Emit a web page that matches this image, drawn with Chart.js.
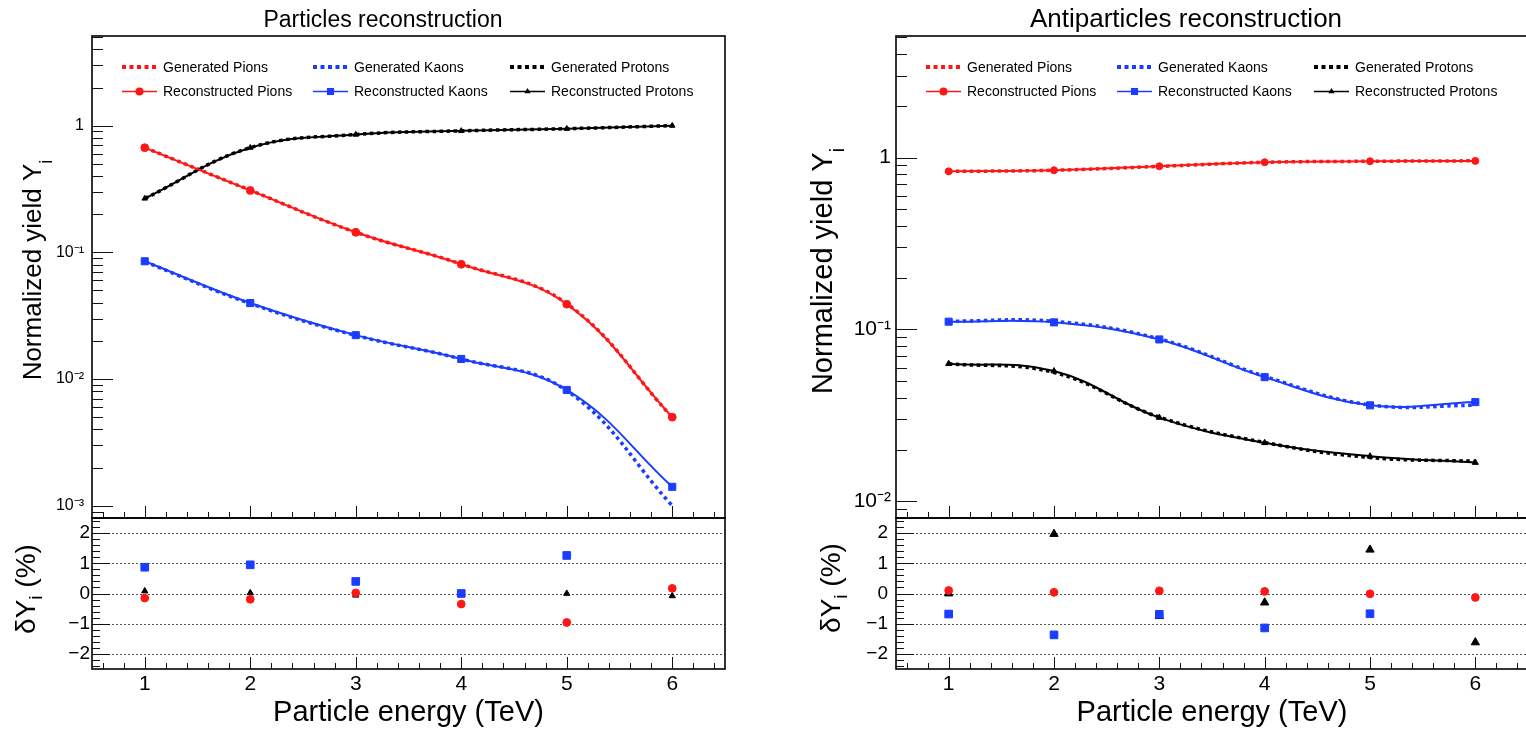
<!DOCTYPE html>
<html>
<head>
<meta charset="utf-8">
<script src="https://cdn.jsdelivr.net/npm/chart.js@4.4.1/dist/chart.umd.min.js"></script>
<style>
  html, body { margin: 0; padding: 0; background: #fff; overflow: hidden; }
  #wrap { position: relative; width: 1526px; height: 730px; overflow: hidden; background: #fff; }
  canvas { position: absolute; }
</style>
</head>
<body>
<div id="wrap">
  <canvas id="partTop" width="766" height="522" style="left:0px;top:0px"></canvas>
  <canvas id="partRes" width="766" height="230" style="left:0px;top:500px"></canvas>
  <canvas id="antiTop" width="724" height="522" style="left:806px;top:0px"></canvas>
  <canvas id="antiRes" width="724" height="230" style="left:806px;top:500px"></canvas>
</div>
<script>
// ---- data ----
const energies = [1, 2, 3, 4, 5, 6];
const speciesNames = ['Pions', 'Kaons', 'Protons'];
const xTickValues = [1, 2, 3, 4, 5, 6];
const logTickValues = [0.001, 0.01, 0.1, 1];
const resTickValues = [-2, -1, 0, 1, 2];

// particles
const partRecPions   = [0.670, 0.308, 0.144, 0.0805, 0.0390, 0.00500];
const partGenPions   = [0.671, 0.309, 0.144, 0.0808, 0.0394, 0.00499];
const partRecKaons   = [0.0850, 0.0398, 0.0222, 0.0144, 0.00820, 0.00141];
const partGenKaons   = [0.0843, 0.0394, 0.0221, 0.0144, 0.00810, 0.00100];
const partRecProtons = [0.266, 0.670, 0.850, 0.910, 0.946, 1.00];
const partGenProtons = [0.266, 0.670, 0.850, 0.910, 0.946, 1.00];
const partResPions   = [-0.15, -0.19, 0.02, -0.35, -0.96, 0.17];
const partResKaons   = [0.87, 0.95, 0.40, 0.00, 1.26, null];
const partResProtons = [0.08, 0.02, -0.06, -0.03, 0.00, -0.08];

// antiparticles
const antiRecPions   = [0.832, 0.844, 0.890, 0.940, 0.952, 0.957];
const antiGenPions   = [0.831, 0.844, 0.889, 0.939, 0.952, 0.958];
const antiRecKaons   = [0.111, 0.110, 0.0875, 0.0528, 0.0362, 0.0378];
const antiGenKaons   = [0.1117, 0.1115, 0.0881, 0.0534, 0.0364, 0.0362];
const antiRecProtons = [0.0632, 0.0573, 0.0307, 0.0219, 0.0183, 0.0168];
const antiGenProtons = [0.0632, 0.0562, 0.0309, 0.0220, 0.0180, 0.0171];
const antiResPions   = [0.10, 0.04, 0.09, 0.07, -0.01, -0.13];
const antiResKaons   = [-0.68, -1.37, -0.69, -1.14, -0.67, null];
const antiResProtons = [0.00, 1.97, -0.75, -0.30, 1.45, -1.62];

// ---- styles ----
const FONT = '"Liberation Sans", Arial, Helvetica, sans-serif';
const speciesColors = ['#ff1616', '#1b3dff', '#000000'];
const speciesMarkers = ['circle', 'rect', 'triangle'];

Chart.defaults.font.family = FONT;
Chart.defaults.color = '#000';

function pts(arr) {
  return energies.map((e, i) => ({ x: e, y: arr[i] }));
}

function supNum(n) {
  const map = { '-': '\u207B', '0': '\u2070', '1': '\u00B9', '2': '\u00B2', '3': '\u00B3',
    '4': '\u2074', '5': '\u2075', '6': '\u2076', '7': '\u2077', '8': '\u2078', '9': '\u2079' };
  return String(n).split('').map(c => map[c]).join('');
}

function fmtLog(v) {
  const e = Math.round(Math.log10(v));
  return e === 0 ? '1' : '10' + supNum(e);
}

function fmtRes(v) {
  return v < 0 ? '\u2212' + Math.abs(v) : String(v);
}

// fixed axis box, no extra padding for edge labels
function fixWidth(w) {
  return sc => { sc.width = w; sc.paddingTop = 0; sc.paddingBottom = 0; };
}

// tick marks drawn inside the frame, ROOT style
function logTickMarks(min, max) {
  const out = [];
  for (let d = Math.floor(Math.log10(min)); d <= Math.ceil(Math.log10(max)); d++) {
    for (let k = 1; k <= 9; k++) {
      const v = k * Math.pow(10, d);
      if (v >= min && v <= max) out.push({ v: v, len: k === 1 ? 21 : 11 });
    }
  }
  return out;
}

function linTickMarks(min, max, step, majLen, minLen) {
  const out = [];
  for (let i = Math.ceil(min / step - 1e-9); i * step <= max + 1e-9; i++) {
    const v = i * step;
    out.push({ v: v, len: Math.abs(v - Math.round(v)) < 1e-9 ? majLen : minLen });
  }
  return out;
}

function drawMarker(ctx, style, x, y, r, color) {
  ctx.fillStyle = color;
  ctx.beginPath();
  if (style === 'circle') {
    ctx.arc(x, y, r, 0, Math.PI * 2);
  } else if (style === 'rect') {
    const s = r * Math.SQRT1_2;
    ctx.rect(x - s, y - s, 2 * s, 2 * s);
  } else {
    ctx.moveTo(x, y - r);
    ctx.lineTo(x + r * 0.866, y + r / 2);
    ctx.lineTo(x - r * 0.866, y + r / 2);
    ctx.closePath();
  }
  ctx.fill();
}

// rotated axis title with a subscript
function drawVTitle(ctx, t) {
  ctx.save();
  ctx.translate(t.x, t.y);
  ctx.rotate(-Math.PI / 2);
  ctx.fillStyle = '#000';
  ctx.textBaseline = 'alphabetic';
  ctx.textAlign = 'left';
  ctx.font = t.size + 'px ' + FONT;
  const w1 = ctx.measureText(t.main).width;
  const w3 = ctx.measureText(t.tail).width;
  ctx.font = t.subSize + 'px ' + FONT;
  const w2 = ctx.measureText(t.sub).width;
  let x = -(w1 + w2 + w3) / 2;
  ctx.font = t.size + 'px ' + FONT;
  ctx.fillText(t.main, x, 0);
  x += w1;
  ctx.font = t.subSize + 'px ' + FONT;
  ctx.fillText(t.sub, x, t.drop);
  x += w2;
  ctx.font = t.size + 'px ' + FONT;
  ctx.fillText(t.tail, x, 0);
  ctx.restore();
}

function drawLegend(chart, o) {
  const ctx = chart.ctx, a = chart.chartArea;
  const cols = [30, 221, 418];
  const rows = [31, 55.5];
  const legendR = [4, 5, 3.6];
  ctx.save();
  ctx.font = '14px ' + FONT;
  ctx.textBaseline = 'middle';
  ctx.textAlign = 'left';
  speciesNames.forEach((name, k) => {
    ['Generated ', 'Reconstructed '].forEach((kind, r) => {
      const ds = chart.data.datasets.find(d => d.label === kind + name);
      const x0 = a.left + cols[k], y = a.top + rows[r];
      ctx.strokeStyle = ds.borderColor;
      if (ds.borderDash) {
        ctx.lineWidth = 4;
        ctx.setLineDash([4, 3.5]);
      } else {
        ctx.lineWidth = 1.5;
        ctx.setLineDash([]);
      }
      ctx.beginPath();
      ctx.moveTo(x0, y);
      ctx.lineTo(x0 + 35, y);
      ctx.stroke();
      ctx.setLineDash([]);
      if (!ds.borderDash) drawMarker(ctx, ds.pointStyle, x0 + 17.5, y, legendR[k], ds.borderColor);
      ctx.fillStyle = '#000';
      ctx.fillText(ds.label, x0 + 41, y + 1);
    });
  });
  ctx.restore();
}

const rootFrame = {
  id: 'rootFrame',
  beforeDatasetsDraw(chart, args, o) {
    if (!o.gridValues) return;
    const ctx = chart.ctx, a = chart.chartArea, ys = chart.scales.y;
    ctx.save();
    ctx.strokeStyle = '#555';
    ctx.lineWidth = 1;
    ctx.setLineDash([2, 2]);
    o.gridValues.forEach(v => {
      const py = Math.round(ys.getPixelForValue(v)) + 0.5;
      ctx.beginPath();
      ctx.moveTo(a.left, py);
      ctx.lineTo(a.right, py);
      ctx.stroke();
    });
    ctx.restore();
  },
  afterDraw(chart, args, o) {
    const ctx = chart.ctx, a = chart.chartArea, s = chart.scales;
    ctx.save();
    ctx.strokeStyle = '#111';
    ctx.lineWidth = 1;
    o.yTicks.forEach(t => {
      const py = Math.round(s.y.getPixelForValue(t.v)) + 0.5;
      ctx.beginPath();
      ctx.moveTo(a.left, py);
      ctx.lineTo(a.left + t.len, py);
      ctx.stroke();
    });
    o.xTicks.forEach(t => {
      const px = Math.round(s.x.getPixelForValue(t.v)) + 0.5;
      ctx.beginPath();
      ctx.moveTo(px, a.bottom);
      ctx.lineTo(px, a.bottom - t.len);
      ctx.stroke();
    });
    ctx.lineWidth = 1.6;
    ctx.strokeStyle = '#000';
    ctx.strokeRect(a.left, a.top, a.right - a.left, a.bottom - a.top);
    if (o.title) {
      ctx.fillStyle = '#000';
      ctx.font = o.titleSize + 'px ' + FONT;
      ctx.textAlign = 'center';
      ctx.textBaseline = 'alphabetic';
      ctx.fillText(o.title, o.titleX, o.titleY);
    }
    ctx.restore();
    if (o.yTitle) drawVTitle(ctx, o.yTitle);
    if (o.legend) drawLegend(chart, o);
  }
};

function buildPanel(p) {
  const topSets = [];
  speciesNames.forEach((name, k) => {
    topSets.push({
      label: 'Reconstructed ' + name,
      data: pts(p.rec[k]),
      borderColor: speciesColors[k],
      backgroundColor: speciesColors[k],
      borderWidth: 2,
      tension: 0.4,
      pointStyle: speciesMarkers[k],
      pointRadius: p.topRadius[k],
      pointBackgroundColor: speciesColors[k],
      pointBorderColor: speciesColors[k],
      pointBorderWidth: 1
    });
  });
  speciesNames.forEach((name, k) => {
    topSets.push({
      label: 'Generated ' + name,
      data: pts(p.gen[k]),
      borderColor: speciesColors[k],
      borderWidth: 3.5,
      borderDash: [3.5, 3.5],
      tension: 0.4,
      pointRadius: 0
    });
  });

  new Chart(document.getElementById(p.topId), {
    type: 'line',
    data: { datasets: topSets },
    options: {
      responsive: false,
      animation: false,
      events: [],
      layout: { autoPadding: false, padding: { top: 36, right: p.padRight, bottom: 4, left: 0 } },
      plugins: {
        legend: { display: false },
        tooltip: { enabled: false },
        rootFrame: {
          title: p.title, titleX: p.titleX, titleY: 27, titleSize: p.titleSize,
          yTitle: p.yTitle,
          legend: true,
          yTicks: logTickMarks(p.yMin, p.yMax),
          xTicks: linTickMarks(0.5, 6.5, 0.2, 12, 6)
        }
      },
      scales: {
        x: { type: 'linear', min: 0.5, max: 6.5, display: false },
        y: {
          type: 'logarithmic', min: p.yMin, max: p.yMax,
          afterFit: fixWidth(p.axisW),
          afterBuildTicks: sc => { sc.ticks = logTickValues.filter(v => v >= p.yMin).map(v => ({ value: v })); },
          ticks: { callback: fmtLog, font: { size: p.logFont }, padding: p.logPad, autoSkip: false, color: '#000' },
          grid: { display: false, drawTicks: false },
          border: { display: false }
        }
      }
    },
    plugins: [rootFrame]
  });

  const resSets = speciesNames.map((name, k) => ({
    label: 'Residual ' + name,
    data: pts(p.res[k]),
    showLine: false,
    pointStyle: speciesMarkers[k],
    pointRadius: p.resRadius[k],
    pointBackgroundColor: speciesColors[k],
    pointBorderColor: speciesColors[k],
    pointBorderWidth: 1
  }));

  new Chart(document.getElementById(p.resId), {
    type: 'line',
    data: { datasets: resSets },
    options: {
      responsive: false,
      animation: false,
      events: [],
      layout: { autoPadding: false, padding: { top: 18, right: p.padRight, bottom: 0, left: 0 } },
      plugins: {
        legend: { display: false },
        tooltip: { enabled: false },
        rootFrame: {
          gridValues: resTickValues,
          yTitle: p.resTitle,
          yTicks: linTickMarks(-2.5, 2.5, 0.2, 18, 8),
          xTicks: linTickMarks(0.5, 6.5, 0.2, 12, 6)
        }
      },
      scales: {
        x: {
          type: 'linear', min: 0.5, max: 6.5,
          afterFit: sc => { sc.height = 61; sc.paddingLeft = 0; sc.paddingRight = 0; },
          afterBuildTicks: sc => { sc.ticks = xTickValues.map(v => ({ value: v })); },
          ticks: { font: { size: 21 }, padding: 3, maxRotation: 0, autoSkip: false, color: '#000' },
          grid: { display: false, drawTicks: false },
          border: { display: false },
          title: { display: true, text: 'Particle energy (TeV)', font: { size: 29 }, padding: { top: 0, bottom: 0 }, color: '#000' }
        },
        y: {
          type: 'linear', min: -2.5, max: 2.5,
          afterFit: fixWidth(p.axisW),
          afterBuildTicks: sc => { sc.ticks = resTickValues.map(v => ({ value: v })); },
          ticks: { callback: fmtRes, font: { size: 19 }, padding: p.resPad, autoSkip: false, color: '#000' },
          grid: { display: false, drawTicks: false },
          border: { display: false }
        }
      }
    },
    plugins: [rootFrame]
  });
}

buildPanel({
  topId: 'partTop', resId: 'partRes',
  rec: [partRecPions, partRecKaons, partRecProtons],
  gen: [partGenPions, partGenKaons, partGenProtons],
  res: [partResPions, partResKaons, partResProtons],
  yMin: 8e-4, yMax: 5.1,
  axisW: 92, padRight: 41,
  title: 'Particles reconstruction', titleX: 383, titleSize: 23,
  logFont: 16, logPad: 8, resPad: 2,
  topRadius: [3.9, 5, 3.2],
  resRadius: [3.9, 5.4, 3.6],
  yTitle: { main: 'Normalized yield Y', sub: 'i', tail: '', x: 41, y: 270, size: 26, subSize: 18, drop: 11 },
  resTitle: { main: '\u03B4Y', sub: 'i', tail: ' (%)', x: 35, y: 89, size: 28, subSize: 19, drop: 7 }
});

buildPanel({
  topId: 'antiTop', resId: 'antiRes',
  rec: [antiRecPions, antiRecKaons, antiRecProtons],
  gen: [antiGenPions, antiGenKaons, antiGenProtons],
  res: [antiResPions, antiResKaons, antiResProtons],
  yMin: 8e-3, yMax: 5.1,
  axisW: 90, padRight: 2,
  title: 'Antiparticles reconstruction', titleX: 380, titleSize: 26,
  logFont: 21, logPad: 5, resPad: 8,
  topRadius: [3.5, 5, 3.5],
  resRadius: [3.9, 5.4, 4.8],
  yTitle: { main: 'Normalized yield Y', sub: 'i', tail: '', x: 26, y: 271, size: 29, subSize: 20, drop: 12 },
  resTitle: { main: '\u03B4Y', sub: 'i', tail: ' (%)', x: 34, y: 88, size: 28, subSize: 19, drop: 7 }
});
</script>
</body>
</html>
